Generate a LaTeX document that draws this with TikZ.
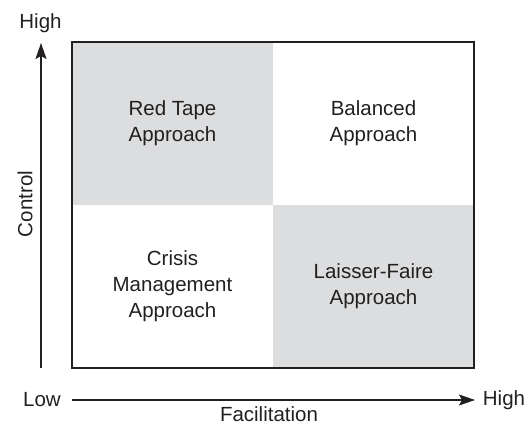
\documentclass[tikz,border=0pt]{standalone}
\usepackage{fontspec}
\setmainfont{Liberation Sans}
\usepackage{xcolor}
\usetikzlibrary{arrows.meta}
\definecolor{cellgray}{RGB}{220,221,223}
\definecolor{inkgray}{RGB}{35,31,32}

\begin{document}
\begin{tikzpicture}[x=1pt,y=1pt,yscale=-1,xscale=1,
  every node/.style={text=inkgray,font=\fontsize{20.5}{26}\selectfont,inner sep=0.75pt},
  cell/.style={align=center},
  axis/.style={draw=inkgray,line width=1.5pt,-{Stealth[length=16pt,width=11pt,inset=3pt]}}]
\useasboundingbox (0,0) rectangle (531,426);

%Shape: shaded quadrants
\fill [cellgray] (72,41.5) rectangle (273,205);
\fill [cellgray] (273,205) rectangle (474,368);
%Shape: outer box
\draw [inkgray,line width=2pt] (72,41.5) rectangle (474,368);

% Text Node
\draw (172.5,123) node [cell] (redtape) {Red Tape\\Approach};
% Text Node
\draw (373.5,123) node [cell] (balanced) {Balanced\\Approach};
% Text Node
\draw (172.5,286.5) node [cell] (crisis) {Crisis\\Management\\Approach};
% Text Node
\draw (373.5,286.5) node [cell] (laisser) {Laisser-Faire\\Approach};

%Axis: Control
\coordinate (ctrlbot) at (41,368);
\coordinate (ctrltop) at (41,43);
\draw [axis] (ctrlbot) -- (ctrltop);
% Text Node
\draw (40.5,23) node (ctrlhigh) {High};
% Text Node
\draw (25,204) node [rotate=90] (ctrllabel) {Control};

%Axis: Facilitation
\draw (42,400) node (facillow) {Low};
\draw (504,400) node (facilhigh) {High};
\coordinate (facilstart) at (72,400);
\coordinate (facilend) at (475,400);
\draw [axis] (facilstart) -- (facilend);
% Text Node
\draw (269,414.5) node (faciltext) {Facilitation};

\end{tikzpicture}
\end{document}
